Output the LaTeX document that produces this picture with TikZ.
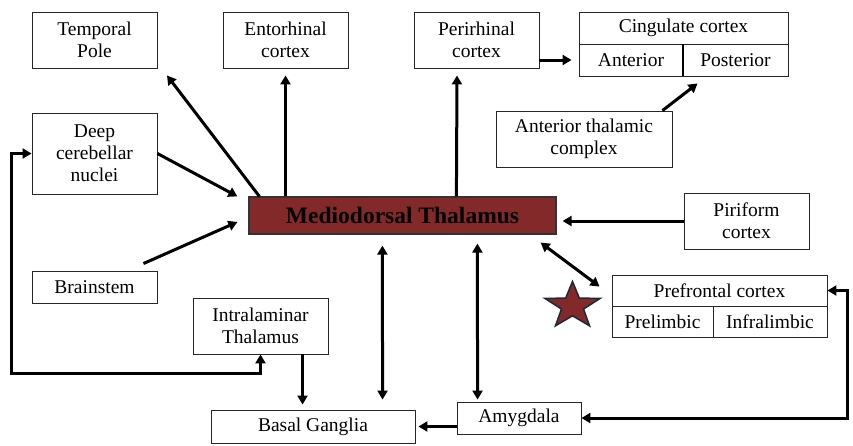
\documentclass[tikz,border=0pt]{standalone}
\usepackage{fontspec}
\setmainfont{Liberation Serif}
\usetikzlibrary{arrows.meta,calc}
\definecolor{mdred}{RGB}{131,41,41}
\definecolor{starline}{RGB}{27,42,56}
\begin{document}
\begin{tikzpicture}[x=1pt,y=-1pt,
  box/.style={draw=black!85,line width=0.9pt,inner sep=0pt,align=center,
    font=\fontsize{19.5}{22}\selectfont},
  arr/.style={line width=3pt,-{Triangle[length=9pt,width=10pt]}},
  arrb/.style={line width=3pt,{Triangle[length=9pt,width=10pt]}-{Triangle[length=9pt,width=10pt]}},
  loopb/.style={line width=3pt,{Triangle[length=9pt,width=10pt]}-{Triangle[length=9pt,width=10pt]}}]
\fill[white] (0,0) rectangle (853,445);
\useasboundingbox (0,0) rectangle (853,445);

% boxes
\node[box,minimum width=125pt,minimum height=56pt] (tp) at (94.5,40) {Temporal\\Pole};
\node[box,minimum width=125pt,minimum height=56pt] (ent) at (285.5,40) {Entorhinal\\cortex};
\node[box,minimum width=125pt,minimum height=56pt] (peri) at (476.5,40) {Perirhinal\\cortex};
\node[box,minimum width=209pt,minimum height=32pt] (cing) at (683.5,28) {Cingulate cortex};
\node[box,minimum width=104pt,minimum height=32pt] (cingA) at (631,60) {Anterior};
\node[box,minimum width=105pt,minimum height=32pt] (cingP) at (735.5,60) {Posterior};
\draw[line width=2pt] (cingA.north east) -- (cingA.south east);
\node[box,minimum width=176pt,minimum height=56pt] (atc) at (584,139) {Anterior thalamic\\complex};
\node[box,minimum width=125pt,minimum height=81pt] (dcn) at (94.5,153.5) {Deep\\cerebellar\\nuclei};
\node[draw=black!80,line width=1.2pt,fill=mdred,minimum width=307pt,minimum height=37pt,inner sep=0pt,
  font=\fontsize{23.5}{26}\selectfont\bfseries] (md) at (402.5,215.5) {Mediodorsal Thalamus};
\node[box,minimum width=125pt,minimum height=56pt] (pir) at (746.5,221) {Piriform\\cortex};
\node[box,minimum width=215pt,minimum height=31pt] (pfc) at (719.5,290.5) {Prefrontal cortex};
\node[box,minimum width=101pt,minimum height=31pt] (pl) at (662.5,321.5) {Prelimbic};
\node[box,minimum width=114pt,minimum height=31pt] (il2) at (770,321.5) {Infralimbic};
\node[box,minimum width=125pt,minimum height=32pt] (bs) at (94.5,287) {Brainstem};
\node[box,minimum width=135pt,minimum height=56pt] (il) at (260.5,326) {Intralaminar\\Thalamus};
\node[box,minimum width=204pt,minimum height=33pt] (bg) at (313,426.5) {Basal Ganglia};
\node[box,minimum width=124pt,minimum height=32pt] (amy) at (519,418) {Amygdala};

% star
\draw[fill=mdred,draw=starline,line width=1.5pt,line join=miter]
  (572.5,281.5) -- (565.68,298.07) -- (544.92,298.43) -- (561.47,309.03) -- (555.45,325.82)
  -- (572.5,315.8) -- (589.55,325.82) -- (583.53,309.03) -- (600.08,298.43) -- (579.32,298.07) -- cycle;

% connectors
\coordinate (tpend) at ($(tp.south)+(72.5,7)$);
\draw[arr] ($(md.north west)+(11,0)$) -- (tpend);
\draw[arr] (md.north -| ent.south) -- ($(ent.south)+(0,7)$);
\draw[arr] ($(md.north west)+(208,0)$) -- ($(peri.south)+(-19.5,7)$);
\draw[arr] (peri.east |- cingA.west) -- ($(cingA.west)+(-7,0)$);
\draw[arr] ($(atc.north east)+(-10,0)$) -- ($(cingP.south west)+(15,7)$);
\draw[arr] (dcn.east) -- ($(md.north west)+(-11,0)$);
\draw[arr] ($(bs.north east)+(-14,-7)$) -- ($(md.west)+(-11,6.5)$);
\draw[arr] (pir.west) -- ($(md.east)+(6,5.5)$);
\draw[arrb] ($(md.south east)+(-16,8)$) -- ($(pfc.north west)+(-12,12)$);
\draw[arrb] ($(md.south west)+(134,11)$) -- ($(bg.north west)+(172,-10)$);
\draw[arrb] ($(md.south west)+(229,9)$) -- ($(amy.north west)+(21,-2)$);
\draw[arr] ($(il.south west)+(110,0)$) -- ($(bg.north west)+(92,-5)$);
\draw[arr] (amy.west |- bg.east) -- ($(bg.east)+(3,0)$);
\draw[loopb] (dcn.west) -- ++(-20,0) |- ($(il.south)+(0,19)$) -- (il.south);
\draw[loopb] (pfc.east) -- ++(20,0) |- (amy.east);
\end{tikzpicture}
\end{document}
